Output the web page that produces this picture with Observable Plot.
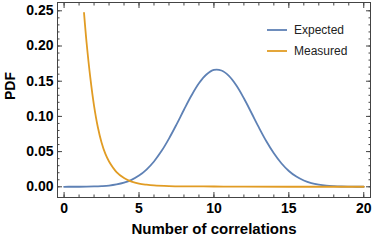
<!DOCTYPE html>
<html><head><meta charset="utf-8">
<script src="https://cdn.jsdelivr.net/npm/d3@7"></script>
<script src="https://cdn.jsdelivr.net/npm/@observablehq/plot@0.6"></script>
<style>body{margin:0;background:#fff} #c{width:374px;height:242px}</style>
</head><body><div id="c"></div>
<script>
// ---- data ----
const expectedX = [0,0.5,1,1.5,2,2.5,3,3.5,4,4.5,5,5.5,6,6.5,7,7.5,8,8.5,9,9.5,10,10.5,11,11.5,12,12.5,13,13.5,14,14.5,15,15.5,16,16.5,17,17.5,18,18.5,19,19.5,20];
const expectedY = [0.00002,0.00005,0.0001,0.00023,0.0005,0.001,0.0018,0.0034,0.0059,0.0099,0.0159,0.0245,0.036,0.0507,0.0685,0.0884,0.1094,0.1296,0.147,0.1595,0.166,0.1652,0.1575,0.1438,0.1257,0.1052,0.0843,0.0647,0.0476,0.0335,0.0225,0.0145,0.009,0.0053,0.003,0.0016,0.00085,0.0004,0.0002,0.0001,0.00004];
const measuredX = [1.33,1.5,1.75,2,2.25,2.5,2.75,3,3.5,4,4.33,4.5,5,5.5,6,7,8,10,12,15,20];
const measuredY = [0.247,0.205,0.155,0.115,0.085,0.063,0.047,0.036,0.021,0.0125,0.0088,0.0075,0.0045,0.003,0.002,0.0011,0.0007,0.0004,0.0002,0.0001,0.00005];
const seriesNames = ["Expected","Measured"];
const seriesColors = ["#5E81B5","#E19C24"];
const xTicks = [0,5,10,15,20];
const xMinorTicks = d3.range(0,21,1);
const yTicks = [0,0.05,0.10,0.15,0.20,0.25];
const yMinorTicks = d3.range(0,26,1).map(d=>d/100);
const xLabel = "Number of correlations";
const yLabel = "PDF";

const expected = expectedX.map((x,i)=>({x, y: expectedY[i]}));
const measured = measuredX.map((x,i)=>({x, y: measuredY[i]}));

const frameColor = "#444";
const font = "Liberation Sans, Arial, sans-serif";
const blank = () => "";

const plot = Plot.plot({
  width: 374, height: 242,
  marginLeft: 57, marginRight: 4, marginTop: 2, marginBottom: 45,
  style: {fontFamily: font, background: "#fff", color: "#000"},
  x: {domain: [-0.44, 20.45]},
  y: {domain: [-0.0152, 0.2618]},
  marks: [
    // minor ticks (inward)
    Plot.axisX(xMinorTicks, {anchor: "bottom", tickSize: -2.5, tickPadding: 0, tickFormat: blank, label: null, stroke: frameColor}),
    Plot.axisX(xMinorTicks, {anchor: "top", tickSize: -2.5, tickPadding: 0, tickFormat: blank, label: null, stroke: frameColor}),
    Plot.axisY(yMinorTicks, {anchor: "left", tickSize: -2.5, tickPadding: 0, tickFormat: blank, label: null, stroke: frameColor}),
    Plot.axisY(yMinorTicks, {anchor: "right", tickSize: -2.5, tickPadding: 0, tickFormat: blank, label: null, stroke: frameColor}),
    // major ticks
    Plot.axisX(xTicks, {anchor: "top", tickSize: -5, tickPadding: 0, tickFormat: blank, label: null, stroke: frameColor}),
    Plot.axisY(yTicks, {anchor: "right", tickSize: -5, tickPadding: 0, tickFormat: blank, label: null, stroke: frameColor}),
    Plot.axisX(xTicks, {anchor: "bottom", tickSize: -5, tickPadding: 11, tickFormat: d3.format("d"), label: null, stroke: frameColor, fill: "#000", fontSize: 14, fontWeight: "bold"}),
    Plot.axisY(yTicks, {anchor: "left", tickSize: -5, tickPadding: 9, tickFormat: d3.format(".2f"), label: null, stroke: frameColor, fill: "#000", fontSize: 14, fontWeight: "bold"}),
    Plot.frame({stroke: frameColor}),
    Plot.line(expected, {x: "x", y: "y", stroke: seriesColors[0], strokeWidth: 1.8, curve: "catmull-rom"}),
    Plot.line(measured, {x: "x", y: "y", stroke: seriesColors[1], strokeWidth: 1.8, curve: "catmull-rom"}),
    Plot.text([xLabel], {text: d=>d, frameAnchor: "bottom", dy: 36, fontSize: 15, fontWeight: "bold", fill: "#000"}),
    Plot.text([yLabel], {text: d=>d, frameAnchor: "left", dx: -47, rotate: -90, fontSize: 14, fontWeight: "bold", fill: "#000"})
  ]
});

// legend inside the frame, top right
const svg = d3.select(plot);
const lg = svg.append("g").attr("font-family", font).attr("font-size", 12).attr("text-anchor", "start");
seriesNames.forEach((name, i) => {
  const cy = 30 + i * 21;
  lg.append("line").attr("x1", 267).attr("x2", 287).attr("y1", cy).attr("y2", cy)
    .attr("stroke", seriesColors[i]).attr("stroke-width", 1.8);
  lg.append("text").attr("x", 294).attr("y", cy).attr("dy", "0.35em").attr("fill", "#222").text(name);
});

document.getElementById("c").appendChild(plot);
</script>
</body></html>
